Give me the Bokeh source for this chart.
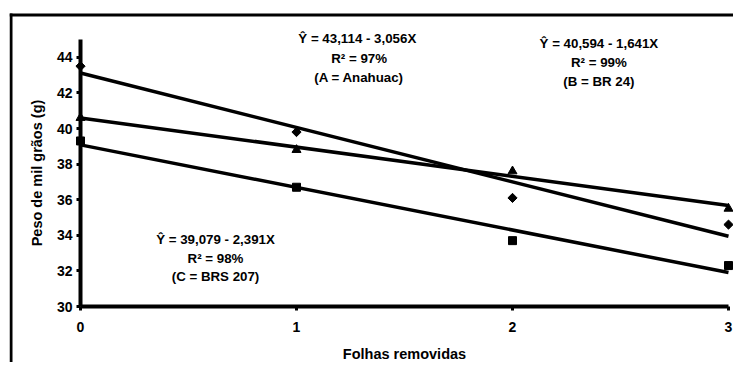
from bokeh.plotting import figure
from bokeh.embed import file_html
from bokeh.resources import INLINE
from bokeh.models import Range1d, FixedTicker, Label
import math

# ---- data ----
folhas = [0, 1, 2, 3]
anahuac = [43.5, 39.8, 36.1, 34.6]      # A (diamonds)
br24 = [40.6, 38.8, 37.6, 35.5]         # B (triangles)
brs207 = [39.3, 36.7, 33.7, 32.3]       # C (squares)
intercepts = [43.114, 40.594, 39.079]   # A, B, C
slopes = [-3.056, -1.641, -2.391]
y_ticks = [30, 32, 34, 36, 38, 40, 42, 44]
x_ticks = [0, 1, 2, 3]
eq_A = ["Ŷ =  43,114 - 3,056X", "R² = 97%", "(A = Anahuac)"]
eq_B = ["Ŷ = 40,594 - 1,641X", "R² = 99%", "(B = BR 24)"]
eq_C = ["Ŷ = 39,079 - 2,391X", "R² = 98%", "(C = BRS 207)"]

FONT = "Liberation Sans"

# ---- layout (pixels) ----
W, H = 733, 362
FL, FT = 9, 4                 # plot frame left / top inside the figure
X0_PX, X3_PX = 80, 728        # x=0 and x=3 in figure pixels
Y30_PX, Y45_PX = 306, 39      # y=30 and y=45 in figure pixels
sx = (X3_PX - X0_PX) / 3.0
sy = (Y30_PX - Y45_PX) / 15.0
x_start = 0 - (X0_PX - FL) / sx
x_end = 3 + (W - X3_PX) / sx
y_end = 45 + (Y45_PX - FT) / sy
y_start = 30 - (H - Y30_PX) / sy

def dx(px):
    return (px - X0_PX) / sx

def dy(py):
    return 45 + (Y45_PX - py) / sy

p = figure(width=W, height=H, output_backend="svg", toolbar_location=None,
           x_range=Range1d(x_start, x_end), y_range=Range1d(y_start, y_end),
           min_border_left=FL, min_border_right=0, min_border_top=FT,
           min_border_bottom=0)
p.title.visible = False
p.outline_line_color = None
p.xgrid.visible = False
p.ygrid.visible = False
p.background_fill_color = "white"
p.border_fill_color = "white"

# outer box: top and left edges as thin filled bands
p.quad(left=[dx(9)], right=[dx(W - 0.5)], top=[dy(13)], bottom=[dy(16)],
       fill_color="black", line_color=None)
p.quad(left=[dx(9)], right=[dx(12)], top=[dy(13)], bottom=[y_start],
       fill_color="black", line_color=None)

# regression lines
x0, x1 = folhas[0], folhas[-1]
for a, b in zip(intercepts, slopes):
    p.line([x0, x1], [a + b * x0, a + b * x1], line_color="black", line_width=3.5)

# points
p.scatter(folhas, anahuac, marker="square", angle=math.pi / 4, size=6.5,
          fill_color="black", line_color="black")
p.scatter(folhas, br24, marker="triangle", size=9, fill_color="black", line_color="black")
p.scatter(folhas, brs207, marker="square", size=8, fill_color="black", line_color="black")

# axes
for ax in (p.xaxis[0], p.yaxis[0]):
    ax.axis_line_width = 4
    ax.axis_line_color = "black"
    ax.major_tick_line_width = 3
    ax.major_tick_line_color = "black"
    ax.major_tick_out = 4
    ax.major_tick_in = 0
    ax.minor_tick_line_color = None
    ax.major_label_text_font = FONT
    ax.major_label_text_font_style = "bold"
    ax.major_label_text_font_size = "14px"
    ax.major_label_text_color = "black"
    ax.axis_label_text_font = FONT
    ax.axis_label_text_font_style = "bold"
    ax.axis_label_text_font_size = "14.5px"
    ax.axis_label_text_color = "black"

p.xaxis[0].ticker = FixedTicker(ticks=x_ticks)
p.xaxis[0].bounds = (0, 3)
p.xaxis[0].fixed_location = 30
p.xaxis[0].axis_label = "Folhas removidas"
p.xaxis[0].major_label_standoff = 11
p.xaxis[0].axis_label_standoff = 11

p.yaxis[0].ticker = FixedTicker(ticks=y_ticks)
p.yaxis[0].bounds = (30, 45)
p.yaxis[0].fixed_location = 0
p.yaxis[0].axis_label = "Peso de mil grãos (g)"
p.yaxis[0].major_label_standoff = 4
p.yaxis[0].axis_label_standoff = 9

# equation annotations
def add_eq(lines, x, ys):
    for t, y in zip(lines, ys):
        p.add_layout(Label(x=x, y=y, text=t, text_align="center", text_baseline="middle",
                           text_font=FONT, text_font_style="bold", text_font_size="13.3px",
                           text_color="black"))

add_eq(eq_A, 1.29, [45.06, 43.93, 42.87])
add_eq(eq_B, 2.40, [44.77, 43.70, 42.63])
add_eq(eq_C, 0.625, [33.79, 32.71, 31.68])

open("out.html", "w").write(file_html(p, INLINE))
